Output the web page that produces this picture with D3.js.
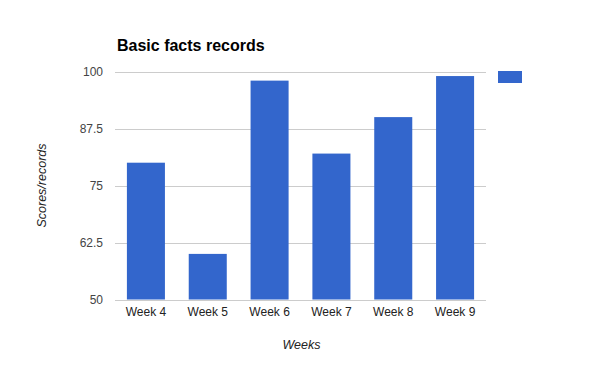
<!DOCTYPE html>
<html>
<head>
<meta charset="utf-8">
<script src="https://cdn.jsdelivr.net/npm/d3@7"></script>
<style>
  html, body { margin: 0; padding: 0; background: #fff; }
  svg { display: block; font-family: Arial, "Liberation Sans", sans-serif; }
</style>
</head>
<body>
<svg id="chart" width="600" height="371"></svg>
<script>
const categories = ["Week 4", "Week 5", "Week 6", "Week 7", "Week 8", "Week 9"];
const values = [80, 60, 98, 82, 90, 99];
const yTicks = [50, 62.5, 75, 87.5, 100];
const yTickLabels = ["50", "62.5", "75", "87.5", "100"];
const chartTitle = "Basic facts records";
const xTitle = "Weeks";
const yTitle = "Scores/records";

const svg = d3.select("#chart");
const plotLeft = 115, plotRight = 486, plotTop = 71.5, plotBottom = 299.5;

const x = d3.scaleBand().domain(categories).range([plotLeft, plotRight]).paddingInner(0.385).paddingOuter(0.1925);
const y = d3.scaleLinear().domain([50, 100]).range([plotBottom, plotTop]);

svg.append("rect").attr("width", 600).attr("height", 371).attr("fill", "#fff");

// gridlines
svg.append("g").selectAll("line").data(yTicks).join("line")
  .attr("x1", plotLeft).attr("x2", plotRight)
  .attr("y1", d => Math.round(y(d)) + 0.5).attr("y2", d => Math.round(y(d)) + 0.5)
  .attr("stroke", "#cccccc").attr("stroke-width", 1);

// y tick labels
svg.append("g").selectAll("text").data(yTicks).join("text")
  .attr("x", 103).attr("y", d => y(d) + 4.3)
  .attr("text-anchor", "end").attr("font-size", 12).attr("fill", "#444")
  .text((d, i) => yTickLabels[i]);

// bars
svg.append("g").selectAll("rect").data(values).join("rect")
  .attr("x", (d, i) => x(categories[i]))
  .attr("width", x.bandwidth())
  .attr("y", d => y(d))
  .attr("height", d => y(50) - y(d))
  .attr("fill", "#3366cc");

// x tick labels
svg.append("g").selectAll("text").data(categories).join("text")
  .attr("x", d => x(d) + x.bandwidth() / 2).attr("y", 316)
  .attr("text-anchor", "middle").attr("font-size", 12).attr("fill", "#222")
  .text(d => d);

// title
svg.append("text").attr("x", 117).attr("y", 50.5)
  .attr("font-size", 16).attr("font-weight", "bold").attr("fill", "#000")
  .text(chartTitle);

// axis titles
svg.append("text").attr("x", (plotLeft + plotRight) / 2 + 1).attr("y", 349)
  .attr("text-anchor", "middle").attr("font-size", 12.5).attr("font-style", "italic").attr("fill", "#222")
  .text(xTitle);
svg.append("text").attr("transform", `translate(46,${(plotTop + plotBottom) / 2}) rotate(-90)`)
  .attr("text-anchor", "middle").attr("font-size", 12.5).attr("font-style", "italic").attr("fill", "#222")
  .text(yTitle);

// legend
svg.append("rect").attr("x", 498).attr("y", 71).attr("width", 24).attr("height", 12).attr("fill", "#3366cc");
</script>
</body>
</html>
